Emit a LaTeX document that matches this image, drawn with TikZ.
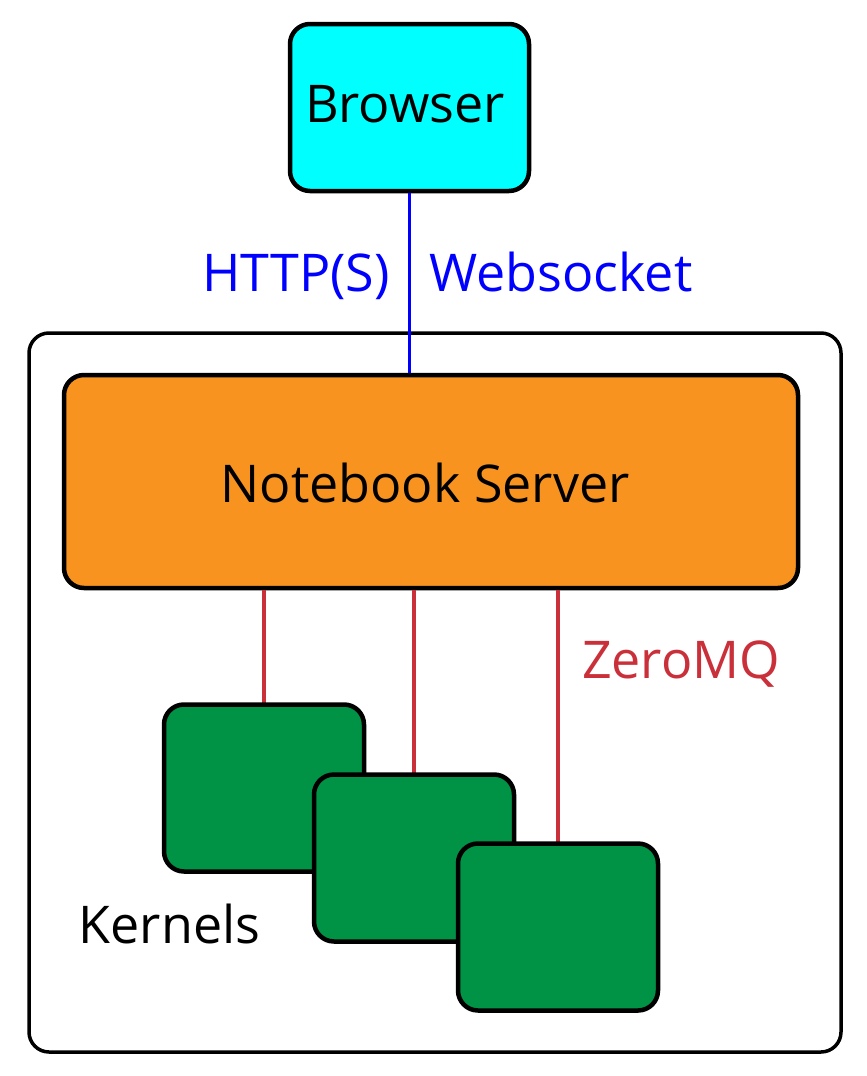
\documentclass[tikz,border=0pt]{standalone}
\usepackage{fontspec}
\setmainfont{Open Sans}
\definecolor{cyanfill}{HTML}{00FFFF}
\definecolor{orangefill}{HTML}{F7931E}
\definecolor{greenfill}{HTML}{009245}
\definecolor{zmqred}{HTML}{C9303A}
\definecolor{linkblue}{HTML}{0000FF}
\begin{document}
\begin{tikzpicture}[x=1pt,y=-1pt,
  box/.style={draw=black, line width=4.5pt, rounded corners=20pt, inner sep=0pt},
  kernel/.style={box, fill=greenfill, minimum width=200pt, minimum height=167pt},
  lbl/.style={anchor=base, inner sep=0pt, font=\fontsize{52}{60}\selectfont},
  zlink/.style={draw=zmqred, line width=3.5pt},
  blink/.style={draw=linkblue, line width=3.5pt}]
\useasboundingbox (0,0) rectangle (867,1076);
% outer container
\node[draw=black, line width=3.5pt, rounded corners=20pt, minimum width=812pt, minimum height=719pt, inner sep=0pt] (outer) at (435,692.5) {};
% browser
\node[box, fill=cyanfill, minimum width=239pt, minimum height=167pt] (browser) at (409.5,107.5) {};
\node[lbl] (browsertxt) at (405,122) {Browser};
% server
\node[box, fill=orangefill, minimum width=734pt, minimum height=213pt] (server) at (431,481.5) {};
\node[lbl] (servertxt) at (425,502) {Notebook Server};
% blue link
\draw[blink] (browser.south) -- (browser.south |- server.north);
\node[lbl, text=linkblue] (http) at (296,291) {HTTP(S)};
\node[lbl, text=linkblue] (ws) at (561,291) {Websocket};
% kernels
\coordinate (k1c) at (264,788);
\coordinate (k2c) at (414,858);
\coordinate (k3c) at (558,927);
\draw[zlink] (server.south -| k1c) -- ([yshift=-84pt]k1c);
\draw[zlink] (server.south -| k2c) -- ([yshift=-84pt]k2c);
\draw[zlink] (server.south -| k3c) -- ([yshift=-84pt]k3c);
\node[kernel] (k1) at (k1c) {};
\node[kernel] (k2) at (k2c) {};
\node[kernel] (k3) at (k3c) {};
\node[lbl, text=zmqred] (zmq) at (681,678) {ZeroMQ};
\node[lbl] (kern) at (169.5,943) {Kernels};
\end{tikzpicture}
\end{document}
